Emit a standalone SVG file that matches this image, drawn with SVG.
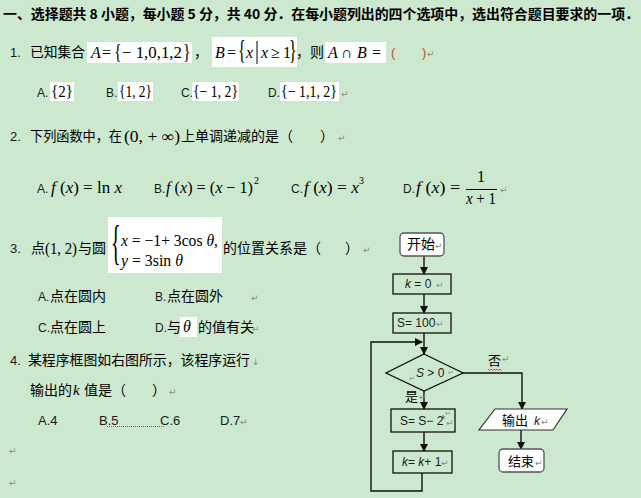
<svg xmlns="http://www.w3.org/2000/svg" width="641" height="498" viewBox="0 0 641 498">
<defs>
<style>
.bg{fill:#cce8cf}
.wb{fill:#ffffff}
.cj{font-family:"Noto Sans CJK SC","Noto Sans",sans-serif;fill:#000}
.hd{font-family:"Noto Sans CJK SC",sans-serif;font-weight:bold;font-size:13.5px;fill:#000}
.sn{font-family:"Liberation Sans",Arial,sans-serif;fill:#1a1a1a}
.m{font-family:"Liberation Serif","Times New Roman",serif;fill:#000}
.i{font-style:italic}
.rt{font-family:"DejaVu Sans",sans-serif;fill:#8a8a8a;font-size:9px}
.ln{fill:none;stroke:#111;stroke-width:1.4}
.box{fill:none;stroke:#111;stroke-width:1.3}
.rbox{fill:#fff;stroke:#555;stroke-width:1.3}
</style>
<marker id="ah" markerWidth="8" markerHeight="8" refX="7" refY="4" orient="auto" markerUnits="userSpaceOnUse">
<path d="M0,0 L8,4 L0,8 Z" fill="#111"/>
</marker>
</defs>
<rect class="bg" x="0" y="0" width="641" height="498"/>

<!-- header -->
<text class="hd" x="3" y="19" textLength="636" lengthAdjust="spacingAndGlyphs">一、选择题共 8 小题，每小题 5 分，共 40 分．在每小题列出的四个选项中，选出符合题目要求的一项．</text>

<!-- Question 1 -->
<g id="q1">
<text class="sn" x="10" y="57" font-size="13">1.</text>
<text class="cj" x="30" y="57" font-size="14" textLength="55" lengthAdjust="spacingAndGlyphs">已知集合</text>
<rect class="wb" x="87" y="42" width="105" height="21"/>
<text class="m i" x="91" y="58" font-size="16">A</text>
<text class="m" x="102" y="58" font-size="16">=</text>
<text class="m" font-size="16" transform="translate(114,58) scale(1,1.3)">{</text>
<text class="m" x="122" y="58" font-size="16" textLength="60" lengthAdjust="spacingAndGlyphs">− 1,0,1,2</text>
<text class="m" font-size="16" transform="translate(183,58) scale(1,1.3)">}</text>
<text class="cj" x="194" y="57" font-size="14">，</text>
<rect class="wb" x="212" y="37" width="85" height="30"/>
<text class="m i" x="215" y="58" font-size="16">B</text>
<text class="m" x="227" y="58" font-size="16">=</text>
<text class="m" font-size="16" transform="translate(238,59) scale(1,1.75)">{</text>
<text class="m i" x="246" y="58" font-size="16">x</text>
<line x1="257" y1="41" x2="257" y2="64" stroke="#000" stroke-width="1"/>
<text class="m i" x="261" y="58" font-size="16">x</text>
<text class="m" x="271" y="58" font-size="16">≥</text>
<text class="m" x="283" y="58" font-size="16">1</text>
<text class="m" font-size="16" transform="translate(289,59) scale(1,1.75)">}</text>
<text class="cj" x="296" y="57" font-size="14">，则</text>
<rect class="wb" x="325" y="42" width="61" height="21"/>
<text class="m i" x="328" y="58" font-size="16">A</text>
<text class="m" x="341" y="58" font-size="16">∩</text>
<text class="m i" x="357" y="58" font-size="16">B</text>
<text class="m" x="372" y="58" font-size="16">=</text>
<text class="sn" x="391" y="57" font-size="13" style="fill:#d04a2a">(</text>
<text class="sn" x="422" y="57" font-size="13" style="fill:#d04a2a">)</text>
<text class="rt" x="427" y="57">↵</text>
</g>
<g id="q1-options">
<text class="sn" x="37" y="97" font-size="12">A.</text>
<rect class="wb" x="50" y="82" width="24" height="19"/>
<text class="m" x="51" y="97" font-size="17" textLength="22" lengthAdjust="spacingAndGlyphs">{2}</text>
<text class="sn" x="106" y="97" font-size="12">B.</text>
<rect class="wb" x="118" y="82" width="35" height="19"/>
<text class="m" x="119" y="97" font-size="17" textLength="33" lengthAdjust="spacingAndGlyphs">{1, 2}</text>
<text class="sn" x="181" y="97" font-size="12">C.</text>
<rect class="wb" x="192" y="82" width="47" height="19"/>
<text class="m" x="193" y="97" font-size="17" textLength="45" lengthAdjust="spacingAndGlyphs">{− 1, 2}</text>
<text class="sn" x="268" y="97" font-size="12">D.</text>
<rect class="wb" x="280" y="82" width="59" height="19"/>
<text class="m" x="281" y="97" font-size="17" textLength="56" lengthAdjust="spacingAndGlyphs">{− 1,1, 2}</text>
<text class="rt" x="341" y="97">↵</text>
</g>

<!-- Question 2 -->
<g id="q2">
<text class="sn" x="10" y="141" font-size="13">2.</text>
<text class="cj" x="30" y="141" font-size="14" textLength="92" lengthAdjust="spacingAndGlyphs">下列函数中，在</text>
<text class="m" x="124" y="142" font-size="16" textLength="56" lengthAdjust="spacingAndGlyphs">(0, + ∞)</text>
<text class="cj" x="181" y="141" font-size="14" textLength="112" lengthAdjust="spacingAndGlyphs">上单调递减的是（</text>
<text class="cj" x="320" y="141" font-size="14">）</text>
<text class="rt" x="338" y="141">↵</text>
</g>
<g id="q2-options">
<text class="sn" x="37" y="193" font-size="12">A.</text>
<text class="m" x="51" y="193" font-size="17" textLength="71" lengthAdjust="spacingAndGlyphs"><tspan class="i">f</tspan> (<tspan class="i">x</tspan>) = ln <tspan class="i">x</tspan></text>
<text class="sn" x="154" y="193" font-size="12">B.</text>
<text class="m" x="166" y="193" font-size="17" textLength="87" lengthAdjust="spacingAndGlyphs"><tspan class="i">f</tspan> (<tspan class="i">x</tspan>) = (<tspan class="i">x</tspan> − 1)</text>
<text class="m" x="254" y="184" font-size="10">2</text>
<text class="sn" x="291" y="193" font-size="12">C.</text>
<text class="m" x="304" y="193" font-size="17" textLength="55" lengthAdjust="spacingAndGlyphs"><tspan class="i">f</tspan> (<tspan class="i">x</tspan>) = <tspan class="i">x</tspan></text>
<text class="m" x="359" y="184" font-size="10">3</text>
<text class="sn" x="403" y="193" font-size="12">D.</text>
<text class="m" x="416" y="193" font-size="17" textLength="44" lengthAdjust="spacingAndGlyphs"><tspan class="i">f</tspan> (<tspan class="i">x</tspan>) =</text>
<text class="m" x="477" y="182" font-size="16">1</text>
<line x1="466" y1="189.5" x2="497" y2="189.5" stroke="#000" stroke-width="1"/>
<text class="m" x="466" y="204" font-size="16" textLength="30" lengthAdjust="spacingAndGlyphs"><tspan class="i">x</tspan> + 1</text>
<text class="rt" x="500" y="193">↵</text>
</g>

<!-- Question 3 -->
<g id="q3">
<text class="sn" x="10" y="253" font-size="13">3.</text>
<text class="cj" x="31" y="253" font-size="14">点</text>
<text class="m" x="45" y="254" font-size="16" textLength="32" lengthAdjust="spacingAndGlyphs">(1, 2)</text>
<text class="cj" x="78" y="253" font-size="14">与圆</text>
<rect class="wb" x="108" y="217" width="114" height="56"/>
<text class="m" font-size="20" transform="translate(111,259) scale(1,2.4)">{</text>
<text class="m" x="121" y="246" font-size="17" textLength="97" lengthAdjust="spacingAndGlyphs"><tspan class="i">x</tspan> = −1+ 3cos <tspan class="i">θ</tspan>,</text>
<text class="m" x="121" y="266" font-size="17" textLength="62" lengthAdjust="spacingAndGlyphs"><tspan class="i">y</tspan> = 3sin <tspan class="i">θ</tspan></text>
<text class="cj" x="223" y="253" font-size="14">的位置关系是（</text>
<text class="cj" x="345" y="253" font-size="14">）</text>
<text class="rt" x="363" y="253">↵</text>
</g>
<g id="q3-options">
<text class="sn" x="38" y="301" font-size="12">A.</text>
<text class="cj" x="50" y="301" font-size="14">点在圆内</text>
<text class="sn" x="155" y="301" font-size="12">B.</text>
<text class="cj" x="167" y="301" font-size="14">点在圆外</text>
<text class="rt" x="251" y="301">↵</text>
<text class="sn" x="38" y="332" font-size="12">C.</text>
<text class="cj" x="50" y="332" font-size="14">点在圆上</text>
<text class="sn" x="155" y="332" font-size="12">D.</text>
<text class="cj" x="167" y="332" font-size="14">与</text>
<rect class="wb" x="180" y="317" width="17" height="20"/>
<text class="m i" x="183" y="332" font-size="16">θ</text>
<text class="cj" x="198" y="332" font-size="14">的值有关</text>
<text class="rt" x="252" y="332">↵</text>
</g>

<!-- Question 4 -->
<g id="q4">
<text class="sn" x="10" y="365" font-size="13">4.</text>
<text class="cj" x="28" y="365" font-size="14" textLength="222" lengthAdjust="spacingAndGlyphs">某程序框图如右图所示，该程序运行</text>
<text class="rt" x="252" y="365">↓</text>
<text class="cj" x="30" y="395" font-size="14">输出的</text>
<text class="m i" x="73" y="395" font-size="15">k</text>
<text class="cj" x="84" y="395" font-size="14">值是（</text>
<text class="cj" x="152" y="395" font-size="14">）</text>
<text class="rt" x="169" y="395">↵</text>
</g>
<g id="q4-options">
<text class="sn" x="38" y="425" font-size="13">A.4</text>
<text class="sn" x="99" y="425" font-size="13">B.5</text>
<text class="sn" x="160" y="425" font-size="13">C.6</text>
<text class="sn" x="220" y="425" font-size="13">D.7</text>
<text class="rt" x="240" y="425">↵</text>
<line x1="107" y1="426.5" x2="165" y2="426.5" stroke="#d020d0" stroke-width="1" stroke-dasharray="1,1"/>
<text class="rt" x="9" y="454">↵</text>
<text class="rt" x="9" y="486">↵</text>
</g>

<!-- Flowchart connectors -->
<g id="connectors">
<line class="ln" x1="424" y1="256" x2="424" y2="274" marker-end="url(#ah)"/>
<line class="ln" x1="424" y1="294" x2="424" y2="313" marker-end="url(#ah)"/>
<line class="ln" x1="424" y1="333" x2="424" y2="354" marker-end="url(#ah)"/>
<polyline class="ln" points="422,473 422,491 371,491 371,342 422,342" marker-end="url(#ah)"/>
<line class="ln" x1="424" y1="391" x2="424" y2="409" marker-end="url(#ah)"/>
<line class="ln" x1="424" y1="432" x2="424" y2="451" marker-end="url(#ah)"/>
<polyline class="ln" points="463,373 522,373 522,409" marker-end="url(#ah)"/>
<line class="ln" x1="521" y1="430" x2="521" y2="449" marker-end="url(#ah)"/>
</g>

<!-- Flowchart nodes -->
<g id="start">
<rect class="rbox" x="400" y="233" width="44" height="23" rx="4"/>
<text class="cj" x="407" y="249" font-size="14">开始</text>
<text class="rt" x="435" y="249">↵</text>
</g>
<g id="k0">
<rect class="box" x="393" y="274" width="58" height="20"/>
<text class="sn" x="405" y="288" font-size="12"><tspan class="i">k</tspan> = 0</text>
<text class="rt" x="436" y="288">↵</text>
</g>
<g id="s100">
<rect class="box" x="393" y="313" width="58" height="20"/>
<text class="sn" x="397" y="327" font-size="12">S= 100</text>
<text class="rt" x="436" y="327">↵</text>
</g>
<g id="cond">
<polygon class="box" points="424,354 463,373 424,391 386,373"/>
<text class="rt" x="409" y="381" style="font-size:7px">↵</text>
<text class="sn" x="416" y="377" font-size="12"><tspan class="i">S</tspan> &gt; 0</text>
<text class="rt" x="448" y="375" style="font-size:7px">↵</text>
</g>
<g id="no-label">
<text class="cj" x="488" y="365" font-size="13">否</text>
<text class="rt" x="502" y="362">↵</text>
<path d="M488,369 l1.5,1.5 l1.5,-1.5 l1.5,1.5 l1.5,-1.5 l1.5,1.5 l1.5,-1.5 l1.5,1.5 l1.5,-1.5 l1.5,1.5" fill="none" stroke="#e02020" stroke-width="0.8"/>
</g>
<g id="yes-label">
<text class="cj" x="405" y="401" font-size="13">是</text>
<text class="rt" x="419" y="400">↵</text>
</g>
<g id="update-s">
<rect class="box" x="391" y="409" width="64" height="23"/>
<text class="sn" x="400" y="425" font-size="12">S= S− 2</text>
<text class="sn i" x="442" y="419" font-size="6">k</text>
<text class="rt" x="446" y="426">↵</text>
<text class="rt" x="445" y="416" style="font-size:7px">↵</text>
</g>
<g id="update-k">
<rect class="box" x="393" y="451" width="59" height="22"/>
<text class="sn" x="402" y="466" font-size="12"><tspan class="i">k</tspan>= <tspan class="i">k</tspan>+ 1</text>
<text class="rt" x="441" y="466">↵</text>
</g>
<g id="output">
<polygon points="495,409 567,409 553,430 479,430" fill="#fff" stroke="#333" stroke-width="1.2"/>
<text class="cj" x="502" y="425" font-size="13">输出</text>
<text class="sn i" x="534" y="425" font-size="12">k</text>
<text class="rt" x="541" y="425">↵</text>
</g>
<g id="end">
<rect class="rbox" x="499" y="449" width="45" height="23" rx="4"/>
<text class="cj" x="508" y="466" font-size="13">结束</text>
<text class="rt" x="535" y="466">↵</text>
</g>
</svg>
